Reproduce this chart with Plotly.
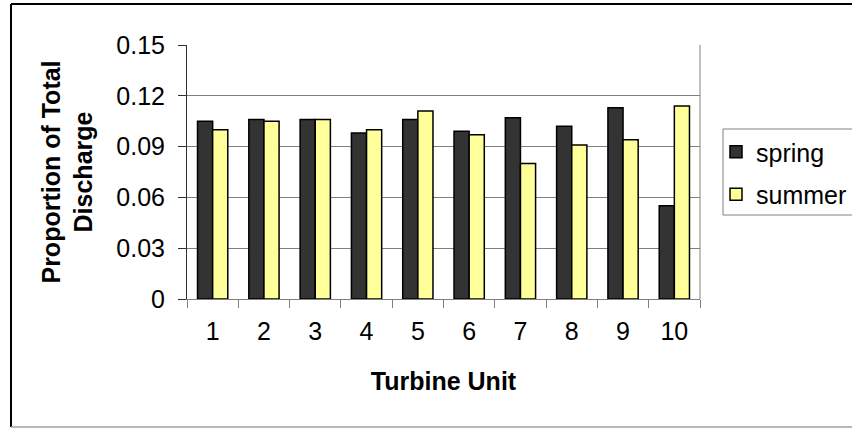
import plotly.graph_objects as go

# Share of total discharge carried by each turbine unit, by season
units = ["1", "2", "3", "4", "5", "6", "7", "8", "9", "10"]
spring = [0.105, 0.106, 0.106, 0.098, 0.106, 0.099, 0.107, 0.102, 0.113, 0.055]
summer = [0.100, 0.105, 0.106, 0.100, 0.111, 0.097, 0.080, 0.091, 0.094, 0.114]
y_ticks = [0, 0.03, 0.06, 0.09, 0.12, 0.15]
y_tick_text = ["0", "0.03", "0.06", "0.09", "0.12", "0.15"]

FONT = "Liberation Sans, Arial, sans-serif"
FS = 25

fig = go.Figure()
fig.add_trace(go.Bar(
    x=units, y=spring, name="spring", legendgroup="spring",
    marker=dict(color="#333333", line=dict(color="black", width=1.5)),
))
fig.add_trace(go.Bar(
    x=units, y=summer, name="summer", legendgroup="summer",
    marker=dict(color="#FFFF99", line=dict(color="black", width=1.5)),
))

L, R, T, B = 187, 152, 45, 130
W, H = 852, 429
pw = W - L - R
ph = H - T - B


def px_x(p):
    return (p - L) / pw


def px_y(p):
    return (H - B - p) / ph


fig.update_layout(
    width=W, height=H,
    margin=dict(l=L, r=R, t=T, b=B, autoexpand=False),
    paper_bgcolor="white", plot_bgcolor="white",
    font=dict(family=FONT, size=FS, color="black"),
    barmode="group", bargap=0.41, bargroupgap=0.0,
    showlegend=True,
    legend=dict(
        x=px_x(716), y=px_y(129), xanchor="left", yanchor="top",
        borderwidth=0, bgcolor="rgba(0,0,0,0)",
        traceorder="grouped", tracegroupgap=7,
        font=dict(family=FONT, size=FS),
        itemwidth=30,
    ),
    xaxis=dict(
        type="category", showgrid=False,
        showline=True, linecolor="#808080", linewidth=1,
        ticks="outside", tickson="boundaries", ticklen=8, tickcolor="#808080",
        tickfont=dict(size=FS), ticklabelstandoff=10,
        title=dict(text="<b>Turbine Unit</b>", font=dict(size=FS), standoff=28),
    ),
    yaxis=dict(
        range=[0, 0.15], tickvals=y_ticks, ticktext=y_tick_text,
        showgrid=True, gridcolor="#808080", gridwidth=1,
        showline=True, linecolor="#303030", linewidth=1,
        ticks="outside", ticklen=8, tickcolor="#303030",
        tickfont=dict(size=FS), ticklabelstandoff=8,
        zeroline=False,
        title=dict(text="<b>Proportion of Total<br>Discharge</b>",
                   font=dict(size=FS), standoff=16),
    ),
    shapes=[
        # right edge of the plot area
        dict(type="line", xref="paper", yref="paper", x0=1, x1=1, y0=0, y1=1,
             line=dict(color="#808080", width=1)),
        # legend frame
        dict(type="rect", xref="paper", yref="paper",
             x0=px_x(723), x1=px_x(870), y0=px_y(129), y1=px_y(215),
             line=dict(color="#808080", width=1)),
        # outer chart frame
        dict(type="line", xref="paper", yref="paper",
             x0=px_x(11), x1=px_x(11), y0=px_y(4), y1=px_y(427),
             line=dict(color="black", width=2)),
        dict(type="line", xref="paper", yref="paper",
             x0=px_x(11), x1=px_x(860), y0=px_y(4), y1=px_y(4),
             line=dict(color="black", width=2)),
        dict(type="line", xref="paper", yref="paper",
             x0=px_x(11), x1=px_x(860), y0=px_y(427), y1=px_y(427),
             line=dict(color="#a0a0a0", width=1.5)),
    ],
)

fig.write_html("out.html")
